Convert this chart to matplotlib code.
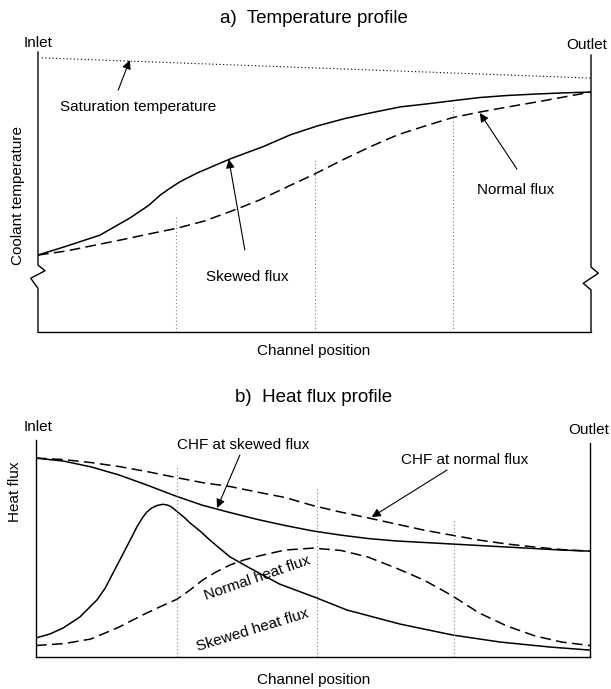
import matplotlib
matplotlib.use('Agg')
import matplotlib.pyplot as plt
import numpy as np

plt.rcParams['font.family'] = ['Liberation Sans', 'DejaVu Sans']
FS = 11
FS_TITLE = 13.5

# ---- a) temperature profile (channel position 0..1, temperature in arbitrary units)
pos_skewed_a = [0, 0.052, 0.112, 0.166, 0.200, 0.221, 0.239, 0.257, 0.288, 0.347, 0.407, 0.456,
                0.505, 0.555, 0.600, 0.655, 0.700, 0.754, 0.799, 0.850, 0.901, 0.949, 1.0]
temp_skewed = [0.275, 0.307, 0.346, 0.407, 0.452, 0.489, 0.514, 0.537, 0.568, 0.618, 0.662, 0.704,
               0.736, 0.7625, 0.782, 0.804, 0.814, 0.827, 0.8375, 0.845, 0.850, 0.854, 0.857]
pos_normal_a = np.linspace(0, 1, 21)
temp_normal = [0.275, 0.289, 0.309, 0.329, 0.350, 0.370, 0.396, 0.432, 0.471, 0.518,
               0.564, 0.614, 0.661, 0.704, 0.736, 0.766, 0.786, 0.804, 0.821, 0.839, 0.857]
sat_pos = [0.007, 1.0]
sat_temp = [0.979, 0.907]
grid_pos_a = [0.25, 0.5, 0.75]
grid_top_a = [0.418, 0.614, 0.814]

# ---- b) heat flux profile
pos_chf = np.linspace(0, 1, 21)
chf_skewed = [0.917, 0.903, 0.876, 0.839, 0.793, 0.744, 0.700, 0.666, 0.634, 0.606,
              0.581, 0.562, 0.546, 0.535, 0.528, 0.521, 0.514, 0.507, 0.500, 0.493, 0.488]
chf_normal = [0.917, 0.910, 0.896, 0.878, 0.855, 0.829, 0.804, 0.786, 0.760, 0.735,
              0.698, 0.668, 0.641, 0.613, 0.585, 0.562, 0.539, 0.521, 0.507, 0.495, 0.488]
pos_flux_normal = [0, 0.051, 0.099, 0.150, 0.175, 0.200, 0.227, 0.255, 0.278, 0.301, 0.325, 0.350, 0.375,
                   0.401, 0.449, 0.500, 0.551, 0.599, 0.650, 0.700, 0.749, 0.800, 0.850, 0.901, 0.949, 1.0]
flux_normal = [0.053, 0.062, 0.083, 0.138, 0.171, 0.203, 0.235, 0.267, 0.309, 0.355, 0.392, 0.424, 0.447,
               0.465, 0.493, 0.502, 0.491, 0.461, 0.410, 0.355, 0.286, 0.203, 0.143, 0.097, 0.069, 0.053]
pos_flux_skewed = [0, 0.025, 0.049, 0.079, 0.110, 0.125, 0.139, 0.155, 0.170, 0.182, 0.193, 0.200,
                   0.209, 0.218, 0.229, 0.238, 0.245, 0.255, 0.267, 0.278, 0.296, 0.314, 0.332, 0.350,
                   0.386, 0.440, 0.507, 0.561, 0.657, 0.753, 0.838, 0.928, 1.0]
flux_skewed = [0.088, 0.106, 0.134, 0.184, 0.263, 0.318, 0.387, 0.465, 0.539, 0.599, 0.645, 0.668,
               0.687, 0.698, 0.704, 0.700, 0.691, 0.670, 0.645, 0.618, 0.581, 0.539, 0.500, 0.462,
               0.410, 0.336, 0.272, 0.217, 0.152, 0.101, 0.069, 0.046, 0.032]
grid_pos_b = [0.255, 0.507, 0.754]
grid_top_b = [0.885, 0.779, 0.631]

DASH = (0, (7, 3.5))
DOT = (0, (1, 2.2))
CURVE = dict(color='k', lw=1.1, solid_joinstyle='round', dash_joinstyle='round')


def setup_axes(ax):
    ax.set_xlim(0, 1)
    ax.set_ylim(0, 1)
    ax.set_xticks([])
    ax.set_yticks([])
    for side in ['top', 'left', 'right']:
        ax.spines[side].set_visible(False)
    ax.spines['bottom'].set_linewidth(1.0)


def edge(ax, xs, ys):
    # axis side lines, drawn in axes coordinates (with break symbols)
    ax.plot(xs, ys, color='k', lw=1.0, transform=ax.transAxes, clip_on=False)


def arrow(ax, text_xy, head_xy):
    ax.annotate('', xy=head_xy, xytext=text_xy,
                arrowprops=dict(arrowstyle='-|>', color='k', lw=0.8,
                                mutation_scale=13, shrinkA=0, shrinkB=0))


fig = plt.figure(figsize=(6.11, 6.89), dpi=100)

# ---------------- panel a
ax1 = fig.add_axes([0.0622, 0.5181, 0.9051, 0.4064])
setup_axes(ax1)
ax1.plot(pos_skewed_a, temp_skewed, **CURVE)
ax1.plot(pos_normal_a, temp_normal, linestyle=DASH, **CURVE)
ax1.plot(sat_pos, sat_temp, color='k', lw=0.8, linestyle=DOT)
for gx, gt in zip(grid_pos_a, grid_top_a):
    ax1.plot([gx, gx], [0, gt], color='grey', lw=0.8, linestyle=DOT)

edge(ax1, [0, 0, 0.0127, -0.0132, 0, 0], [1.0, 0.239, 0.219, 0.192, 0.156, 0])
edge(ax1, [1, 1, 1.0132, 0.986, 1, 1], [0.989, 0.232, 0.210, 0.174, 0.15, 0])

ax1.text(0.181, 0.804, 'Saturation temperature', fontsize=FS, ha='center', va='center')
arrow(ax1, (0.145, 0.864), (0.166, 0.971))
ax1.text(0.378, 0.196, 'Skewed flux', fontsize=FS, ha='center', va='center')
arrow(ax1, (0.374, 0.293), (0.345, 0.617))
ax1.text(0.863, 0.507, 'Normal flux', fontsize=FS, ha='center', va='center')
arrow(ax1, (0.866, 0.582), (0.799, 0.782))

ax1.text(-0.036, 0.486, 'Coolant temperature', fontsize=FS, rotation=90,
         ha='center', va='center', transform=ax1.transAxes)
ax1.text(0.499, -0.068, 'Channel position', fontsize=FS, ha='center', va='center',
         transform=ax1.transAxes)
ax1.text(0.499, 1.118, 'a)  Temperature profile', fontsize=FS_TITLE, ha='center', va='center',
         transform=ax1.transAxes)
ax1.text(0.0, 1.032, 'Inlet', fontsize=FS, ha='center', va='center', transform=ax1.transAxes)
ax1.text(0.993, 1.025, 'Outlet', fontsize=FS, ha='center', va='center', transform=ax1.transAxes)

# ---------------- panel b
ax2 = fig.add_axes([0.0589, 0.0464, 0.9067, 0.3149])
setup_axes(ax2)
ax2.plot(pos_chf, chf_skewed, **CURVE)
ax2.plot(pos_chf, chf_normal, linestyle=DASH, **CURVE)
ax2.plot(pos_flux_skewed, flux_skewed, **CURVE)
ax2.plot(pos_flux_normal, flux_normal, linestyle=DASH, **CURVE)
for gx, gt in zip(grid_pos_b, grid_top_b):
    ax2.plot([gx, gx], [0, gt], color='grey', lw=0.8, linestyle=DOT)

edge(ax2, [0, 0], [1.0, 0])
edge(ax2, [1, 1], [0.986, 0])

ax2.text(0.374, 0.977, 'CHF at skewed flux', fontsize=FS, ha='center', va='center')
arrow(ax2, (0.368, 0.931), (0.327, 0.687))
ax2.text(0.773, 0.908, 'CHF at normal flux', fontsize=FS, ha='center', va='center')
arrow(ax2, (0.742, 0.862), (0.606, 0.645))
ax2.text(0.399, 0.364, 'Normal heat flux', fontsize=FS, ha='center', va='center', rotation=19)
ax2.text(0.390, 0.124, 'Skewed heat flux', fontsize=FS, ha='center', va='center', rotation=17)

ax2.text(-0.038, 0.76, 'Heat flux', fontsize=FS, rotation=90,
         ha='center', va='center', transform=ax2.transAxes)
ax2.text(0.501, -0.106, 'Channel position', fontsize=FS, ha='center', va='center',
         transform=ax2.transAxes)
ax2.text(0.501, 1.198, 'b)  Heat flux profile', fontsize=FS_TITLE, ha='center', va='center',
         transform=ax2.transAxes)
ax2.text(0.003, 1.06, 'Inlet', fontsize=FS, ha='center', va='center', transform=ax2.transAxes)
ax2.text(0.998, 1.046, 'Outlet', fontsize=FS, ha='center', va='center', transform=ax2.transAxes)

fig.savefig('out.png', dpi=100)
